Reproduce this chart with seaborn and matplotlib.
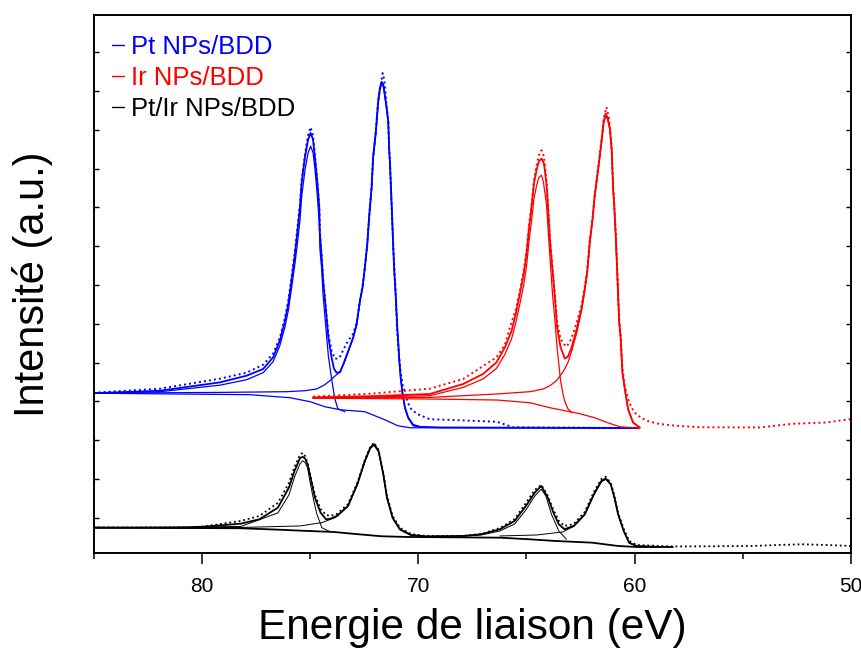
import numpy as np
import matplotlib
matplotlib.use("Agg")
import matplotlib.pyplot as plt
import seaborn as sns
from matplotlib.lines import Line2D

# ---------------- data (binding energy eV, intensity a.u.) ----------------
# Pt NPs/BDD
pt_data_e = [85.0, 81.93, 79.16, 77.92, 77.16, 76.70, 76.39, 76.15, 76.00, 75.85, 75.69, 75.59, 75.46, 75.38, 75.23,
             75.09, 74.97, 74.86, 74.77, 74.66, 74.57, 74.54, 74.46, 74.39, 74.26, 74.15, 74.00, 73.85, 73.71, 73.61,
             73.43, 73.23, 73.00, 72.84, 72.69, 72.57, 72.46, 72.35, 72.26, 72.15, 72.08, 71.95, 71.85, 71.69, 71.64,
             71.56, 71.46, 71.38, 71.34, 71.30, 71.25, 71.20, 71.15, 71.11, 71.03, 70.97, 70.88, 70.81, 70.72, 70.61,
             70.53, 70.38, 70.07, 69.46, 68.69, 66.36, 65.62, 59.85]
pt_data_i = [160, 164, 174, 180, 188, 199, 215, 235, 252, 275, 302, 322, 348, 372, 397,
             417, 425, 417, 397, 372, 347, 320, 297, 273, 244, 219, 202, 194, 194, 196,
             204, 212, 219, 230, 252, 266, 286, 309, 337, 366, 396, 422, 451, 472, 479,
             472, 446, 431, 404, 389, 358, 334, 306, 289, 259, 221, 196, 180, 168, 161,
             154, 145, 139, 133.5, 133, 131, 125.5, 124.7]
pt_fit_e = [85.0, 81.93, 79.16, 77.92, 77.16, 76.70, 76.39, 76.15, 76.00, 75.85, 75.69, 75.59, 75.46, 75.38, 75.23,
            75.09, 74.97, 74.86, 74.77, 74.66, 74.57, 74.54, 74.46, 74.39, 74.26, 74.15, 74.00, 73.89, 73.77, 73.61,
            73.43, 73.23, 73.00, 72.84, 72.69, 72.57, 72.46, 72.35, 72.26, 72.15, 72.08, 71.95, 71.85, 71.77, 71.69,
            71.61, 71.46, 71.38, 71.34, 71.30, 71.25, 71.20, 71.15, 71.11, 71.03, 70.97, 70.91, 70.88, 70.81, 70.72,
            70.61, 70.46, 70.23, 69.92, 69.00, 59.85]
pt_fit_i = [159.5, 162, 170.3, 177, 183.7, 195.3, 212, 232, 248.7, 272, 298.7, 318.7, 345.3, 370.3, 395.3,
            412, 419.3, 413, 395.3, 370.3, 345.3, 319, 295.3, 272, 242, 215.3, 195.3, 184, 180, 180.3,
            190, 201.7, 215.3, 228.7, 252, 265.3, 285.3, 308.7, 337, 365.3, 395.3, 422, 450.3, 464, 470.3,
            468, 445.3, 430.3, 403.7, 389, 362, 334, 305.3, 284, 254, 227, 207, 195, 176, 159,
            145.3, 135.3, 128, 126, 125.3, 124.7]
pt_c1_e = [85.0, 81.93, 79.16, 77.92, 77.16, 76.70, 76.39, 76.15, 76.00, 75.85, 75.69, 75.59, 75.46, 75.38, 75.23,
           75.09, 74.97, 74.86, 74.77, 74.66, 74.57, 74.54, 74.46, 74.39, 74.26, 74.15, 74.00, 73.85, 73.71, 73.38]
pt_c1_i = [159.3, 161, 167.5, 173, 180, 191, 207, 226, 242, 264, 289, 307, 332, 356, 382,
           399, 406, 400, 384, 357, 330, 304, 284, 257, 224, 197, 174, 154, 144, 141]
pt_c2_e = [85.0, 79.16, 76.08, 75.23, 74.69, 74.31, 74.08, 73.77, 73.61, 73.43, 73.23, 73.00, 72.84, 72.69, 72.57,
           72.46, 72.35, 72.26, 72.15, 72.08, 71.95, 71.85, 71.77, 71.69, 71.61, 71.46, 71.38, 71.34, 71.30, 71.25,
           71.20, 71.15, 71.11, 71.03, 70.97, 70.91, 70.88, 70.81, 70.72, 70.61, 70.46, 70.23, 69.92]
pt_c2_i = [159.5, 160.3, 161, 162, 163.7, 168, 172, 178, 181, 189, 201, 214.5, 227.5, 250.5, 264,
           284, 307, 335, 363, 393, 419.5, 448, 462, 468, 466, 444, 429, 402, 387, 360.5,
           333, 304.5, 283, 253, 226, 206, 194, 175, 158, 144.5, 134.5, 127, 125.5]
pt_bg_e = [85.0, 77.77, 75.92, 74.99, 74.31, 73.61, 72.46, 71.54, 70.94, 70.38, 59.85]
pt_bg_i = [159.5, 158, 155, 151, 146, 143, 141, 133, 127, 125, 124.7]

# Ir NPs/BDD
ir_data_e = [74.86, 72.23, 69.46, 67.92, 66.38, 65.99, 65.76, 65.49, 65.30, 65.12, 64.99, 64.87, 64.76, 64.65, 64.53,
             64.42, 64.30, 64.19, 64.07, 64.00, 63.91, 63.79, 63.68, 63.58, 63.42, 63.30, 63.14, 62.99, 62.84, 62.68,
             62.45, 62.30, 62.19, 62.07, 61.94, 61.84, 61.68, 61.53, 61.42, 61.30, 61.19, 61.06, 60.99, 60.94, 60.87,
             60.79, 60.71, 60.65, 60.56, 60.45, 60.30, 60.14, 59.91, 59.45, 58.83, 58.06, 56.98, 54.21, 52.69, 51.13,
             50.0]
ir_data_i = [156, 159, 164, 173.7, 195.3, 208, 225, 243, 262, 282, 302, 328, 348, 372, 387,
             397, 402, 396, 372, 348, 314, 284, 257, 230, 214, 209, 206, 211, 219, 230,
             247, 266, 282, 312, 335, 358, 385, 412, 434, 445, 435, 406, 366, 349, 319,
             276, 233, 219, 184, 166, 154, 145, 138, 132, 128.7, 127, 125.5, 125.3, 129, 130.3,
             133.7]
ir_fit_e = [74.86, 72.23, 69.46, 67.92, 67.00, 66.38, 65.99, 65.68, 65.49, 65.30, 65.12, 64.99, 64.87, 64.76, 64.65,
            64.53, 64.42, 64.30, 64.19, 64.07, 64.00, 63.91, 63.79, 63.68, 63.58, 63.42, 63.22, 63.08, 62.91, 62.68,
            62.53, 62.45, 62.30, 62.19, 62.07, 61.94, 61.84, 61.68, 61.53, 61.43, 61.34, 61.24, 61.14, 61.06, 60.99,
            60.94, 60.87, 60.79, 60.71, 60.65, 60.56, 60.45, 60.30, 60.07, 59.76]
ir_fit_i = [155.3, 156.5, 158.7, 168.7, 178.7, 190.3, 205.3, 222, 238.7, 258.7, 278.7, 298.7, 325.3, 345.3, 368.7,
            382, 391, 393.7, 389, 368.7, 345.3, 312, 282, 255.3, 225.3, 205.3, 194, 196, 205, 223,
            237, 243.7, 263.7, 280.3, 310.3, 333.7, 357, 383.7, 410.3, 430, 438.7, 434, 423.7, 403.7, 363.7,
            347, 317, 273.7, 230.3, 217, 180.3, 163.7, 143.7, 130.3, 125.3]
ir_c1_e = [74.86, 72.23, 69.46, 67.92, 67.00, 66.38, 65.99, 65.68, 65.49, 65.30, 65.12, 64.99, 64.87, 64.76, 64.65,
           64.53, 64.42, 64.30, 64.21, 64.07, 64.00, 63.91, 63.79, 63.68, 63.58, 63.42, 63.30, 63.22, 63.08, 62.90]
ir_c1_i = [155, 155.7, 157, 165.3, 173.7, 184.3, 198.3, 214, 229.7, 248.7, 267.7, 286.7, 312.3, 331.3, 353.7,
           366.5, 375, 377, 370, 348, 325, 295, 258, 232, 205, 172, 158, 151, 144, 140]
ir_c2_e = [74.86, 69.46, 66.38, 64.84, 64.22, 63.91, 63.61, 63.30, 63.08, 62.90, 62.68, 62.45, 62.30, 62.19, 62.07,
           61.94, 61.84, 61.68, 61.53, 61.43, 61.34, 61.24, 61.14, 61.06, 60.99, 60.94, 60.87, 60.79, 60.71, 60.65,
           60.56, 60.45, 60.30, 60.07, 59.76]
ir_c2_i = [154.7, 155.3, 158.7, 161, 163.7, 167, 172, 181, 190, 202, 219, 242, 262, 279, 309,
           332.5, 356, 382.5, 409, 428.5, 437, 432.5, 422.5, 402.5, 362.5, 346, 316, 273, 229.5, 216,
           179.5, 163, 143, 130, 125]
ir_bg_e = [74.86, 69.46, 66.36, 64.84, 63.91, 63.22, 62.53, 61.84, 61.24, 60.68, 59.76]
ir_bg_i = [154.5, 153.7, 152.7, 150, 145, 142, 139, 135, 130, 126, 124.5]

# Pt/Ir NPs/BDD
ptir_data_e = [85.0, 80.75, 79.90, 78.19, 77.33, 76.48, 75.97, 75.71, 75.46, 75.33, 75.23, 75.11, 74.94, 74.77, 74.51,
               74.26, 74.08, 73.75, 73.24, 72.81, 72.46, 72.21, 72.04, 71.83, 71.61, 71.44, 71.18, 70.84, 70.33, 69.64,
               67.93, 67.08, 66.22, 65.54, 65.02, 64.61, 64.31, 64.01, 63.75, 63.50, 63.24, 62.99, 62.81, 62.30, 61.88,
               61.53, 61.33, 61.10, 60.93, 60.76, 60.50, 60.25, 59.90, 58.23, 54.54, 53.38, 52.27, 51.12, 50.0]
ptir_data_i = [25.5, 25.5, 26.5, 32, 37, 50, 70, 86, 98, 100, 97, 90, 74, 58, 44,
               38, 37, 39, 49, 70, 93, 106, 110, 103, 80, 57, 37, 25, 19, 17,
               17, 19, 25, 34, 50, 63, 68, 57, 43, 32, 27, 28, 29, 41, 61,
               74, 76, 70, 57, 40, 24, 12, 8, 6.5, 7, 8, 8.7, 8, 7]
ptir_fit_e = [85.0, 80.75, 79.90, 78.19, 77.33, 76.48, 75.97, 75.71, 75.46, 75.33, 75.23, 75.11, 74.94, 74.77, 74.51,
              74.26, 74.08, 73.75, 73.24, 72.81, 72.46, 72.21, 72.04, 71.83, 71.61, 71.44, 71.18, 70.84, 70.33, 69.64,
              67.93, 67.08, 66.22, 65.54, 65.02, 64.61, 64.31, 64.01, 63.75, 63.50, 63.24, 62.81, 62.30, 61.88, 61.53,
              61.33, 61.10, 60.93, 60.76, 60.50, 60.25, 59.90, 58.83]
ptir_fit_i = [25.3, 25.3, 26.3, 29.3, 33.7, 45.3, 65.3, 82, 94.7, 96, 94.5, 88.7, 72, 55.3, 40.3,
              33.7, 34, 37, 47, 68.7, 92, 105.3, 108.7, 102, 78.7, 55.3, 35.3, 23.7, 18, 16.7,
              17, 18.7, 23.7, 32, 47, 60.3, 67, 55.3, 40.3, 28.7, 23.7, 27, 38.7, 58.7, 72,
              74.3, 68.7, 55.3, 38.7, 22, 10.3, 7, 6]
ptir_c1_e = [85.0, 78.19, 76.48, 75.97, 75.71, 75.46, 75.33, 75.23, 75.11, 74.96, 74.82, 74.68, 74.45, 74.08]
ptir_c1_i = [25.2, 26.5, 40, 58, 76, 89, 92, 90.5, 85, 67, 52, 39, 25.3, 21.3]
ptir_c2_e = [85.0, 78.19, 75.46, 74.45, 73.91, 73.75, 73.24, 72.81, 72.46, 72.21, 72.04, 71.83, 71.61, 71.44, 71.18,
             70.84, 70.33, 69.64]
ptir_c2_i = [25.3, 25.5, 27, 30.3, 34.7, 36.5, 46.5, 68, 91, 104, 107.5, 101, 78, 54.5, 34.5,
             23, 17.5, 16.3]
ptir_c3_e = [67.93, 67.08, 66.22, 65.54, 65.02, 64.61, 64.31, 64.10, 63.84, 63.50, 63.15]
ptir_c3_i = [16.8, 18, 22, 29, 43, 57, 63.7, 57, 38.7, 22, 13.7]
ptir_c4_e = [66.22, 64.51, 63.31, 62.99, 62.81, 62.30, 61.88, 61.53, 61.33, 61.10, 60.93, 60.76, 60.50, 60.25, 59.90]
ptir_c4_i = [17, 18, 21, 24.7, 26.5, 38, 58, 71, 73.5, 68, 54.5, 38, 21.5, 10, 6.5]
ptir_bg_e = [85.0, 78.19, 76.48, 75.11, 73.91, 73.06, 71.69, 70.50, 66.22, 64.86, 63.66, 61.95, 60.76, 59.90, 58.23]
ptir_bg_i = [25.3, 24.7, 23.3, 22, 21, 19.3, 16.7, 16, 15.3, 13.7, 12, 10.3, 7, 6, 6]

labels = ["Pt NPs/BDD", "Ir NPs/BDD", "Pt/Ir NPs/BDD"]
colors = ["#0000FF", "#FF0000", "#000000"]

# ---------------- figure ----------------
sns.set_theme(style="ticks")
plt.rcParams['font.family'] = ['Liberation Sans', 'DejaVu Sans']
plt.rcParams['text.color'] = 'black'
plt.rcParams['axes.labelcolor'] = 'black'
plt.rcParams['xtick.color'] = 'black'
plt.rcParams['ytick.color'] = 'black'

W, H = 861, 653
fig = plt.figure(figsize=(W / 100, H / 100), dpi=100)
ax = fig.add_axes([93.5 / W, 1 - 553 / H, (851 - 93.5) / W, (553 - 15) / H])

def draw(e, i, color, lw, ls="-"):
    sns.lineplot(x=e, y=i, ax=ax, color=color, lw=lw, linestyle=ls,
                 sort=False, estimator=None, legend=False)

dot = (0, (1, 1.6))
sets = [
    (pt_bg_e, pt_bg_i, pt_c1_e, pt_c1_i, pt_c2_e, pt_c2_i, pt_fit_e, pt_fit_i, pt_data_e, pt_data_i, colors[0]),
    (ir_bg_e, ir_bg_i, ir_c1_e, ir_c1_i, ir_c2_e, ir_c2_i, ir_fit_e, ir_fit_i, ir_data_e, ir_data_i, colors[1]),
]
for bg_e, bg_i, c1e, c1i, c2e, c2i, fe, fi, de, di, col in sets:
    draw(bg_e, bg_i, col, 0.9)
    draw(c1e, c1i, col, 0.9)
    draw(c2e, c2i, col, 0.9)
    draw(fe, fi, col, 1.3)
    draw(de, di, col, 1.4, dot)

k = colors[2]
draw(ptir_bg_e, ptir_bg_i, k, 1.3)
draw(ptir_c1_e, ptir_c1_i, k, 0.7)
draw(ptir_c2_e, ptir_c2_i, k, 0.7)
draw(ptir_c3_e, ptir_c3_i, k, 0.7)
draw(ptir_c4_e, ptir_c4_i, k, 0.7)
draw(ptir_fit_e, ptir_fit_i, k, 1.3)
draw(ptir_data_e, ptir_data_i, k, 1.3, dot)

ax.set_xlim(85, 50)
ax.set_ylim(0, 537)

ax.set_xticks([80, 70, 60, 50])
ax.set_xticks([85, 75, 65, 55], minor=True)
ax.tick_params(axis='x', which='major', direction='out', length=8, width=1.1,
               labelsize=15, pad=9, colors='black')
ax.tick_params(axis='x', which='minor', direction='out', length=4.5, width=1.1)
ax.set_yticks(np.arange(35, 530, 38.75))
ax.tick_params(axis='y', which='both', direction='in', length=3.5, width=1,
               left=True, right=True, labelleft=False, labelright=False)
for s in ax.spines.values():
    s.set_linewidth(1.4)
    s.set_color('black')

ax.set_xlabel("Energie de liaison (eV)", fontsize=30.5, labelpad=9, color='black')
ax.set_ylabel("Intensité (a.u.)", fontsize=30, labelpad=29, color='black')

handles = [Line2D([0], [0], color=c, lw=1.0) for c in colors]
leg = ax.legend(handles, labels, loc='upper left', bbox_to_anchor=(0.011, 0.982),
                frameon=False, fontsize=18.5, handlelength=0.45, handletextpad=0.3,
                labelspacing=0.28, borderaxespad=0, labelcolor=colors)

fig.savefig("out.png", dpi=100)
